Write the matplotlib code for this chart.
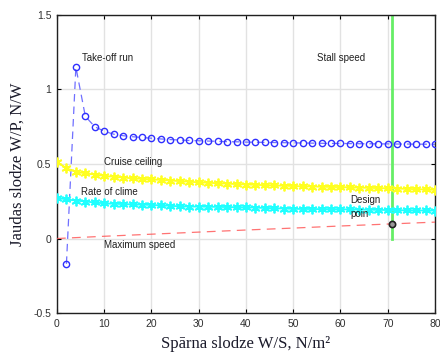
import numpy as np
import matplotlib
matplotlib.use('Agg')
import matplotlib.pyplot as plt

# Take-off run (blue circles)
x_takeoff = list(range(2, 81, 2))
y_takeoff = [-0.17, 1.15, 0.82, 0.75, 0.72, 0.70, 0.69, 0.683, 0.678, 0.673,
             0.668, 0.664, 0.661, 0.658, 0.656, 0.654, 0.652, 0.650, 0.649, 0.647,
             0.646, 0.645, 0.644, 0.643, 0.642, 0.641, 0.640, 0.639, 0.638, 0.638,
             0.637, 0.636, 0.636, 0.635, 0.635, 0.634, 0.634, 0.633, 0.633, 0.632]

# Cruise ceiling (yellow)
x_cruise = list(range(0, 81, 2))
y_cruise = [0.515, 0.471, 0.448, 0.437, 0.429, 0.420, 0.414, 0.409, 0.404, 0.400,
            0.397, 0.393, 0.389, 0.385, 0.381, 0.377, 0.374, 0.371, 0.368, 0.365,
            0.362, 0.360, 0.358, 0.356, 0.354, 0.352, 0.350, 0.349, 0.347, 0.346,
            0.345, 0.343, 0.341, 0.340, 0.338, 0.337, 0.335, 0.333, 0.331, 0.329,
            0.326]

# Rate of climb (cyan)
x_climb = list(range(0, 81, 2))
y_climb = [0.274, 0.262, 0.255, 0.248, 0.242, 0.236, 0.233, 0.231, 0.229, 0.227,
           0.225, 0.222, 0.219, 0.216, 0.214, 0.214, 0.213, 0.212, 0.211, 0.210,
           0.209, 0.207, 0.205, 0.203, 0.201, 0.199, 0.198, 0.198, 0.197, 0.197,
           0.196, 0.195, 0.194, 0.193, 0.192, 0.191, 0.190, 0.189, 0.188, 0.188,
           0.187]

# Maximum speed (red dashed)
x_maxspeed = [0, 10, 20, 30, 40, 50, 60, 70, 80]
y_maxspeed = [0.0, 0.015, 0.029, 0.043, 0.057, 0.070, 0.084, 0.097, 0.110]

# Stall speed and design point
stall_ws = 71
design_ws = 71
design_wp = 0.097

fig = plt.figure(figsize=(4.4, 3.57), dpi=100)
ax = fig.add_axes([0.1295, 0.1232, 0.8591, 0.8348])

ax.plot(x_takeoff, y_takeoff, '--', color='#7070ff', lw=0.9, dashes=(6, 4), zorder=3)
ax.plot(x_takeoff, y_takeoff, 'o', mfc='none', mec='#3030ff', ms=4.5, mew=1.0, zorder=4)

ax.plot(x_cruise, y_cruise, '-', color='#ffff20', lw=1.3, marker=(6, 2, 0),
        ms=7, mew=1.3, mec='#ffff20', zorder=3)
ax.plot(x_climb, y_climb, '-', color='#20ffff', lw=1.3, marker=(6, 2, 0),
        ms=7, mew=1.3, mec='#20ffff', zorder=3)

ax.plot(x_maxspeed, y_maxspeed, '--', color='#ff5050', lw=0.9, dashes=(7, 5), alpha=0.8, zorder=3)

ax.plot([stall_ws, stall_ws], [0, 1.5], '-', color='#66ee66', lw=2, zorder=2)
ax.plot(design_ws, design_wp, 'o', mfc='#999999', mec='#202020', ms=4.5, mew=1.2, zorder=5)

tfont = dict(fontsize=7, family='Liberation Sans', color='#202020')
ax.text(5.3, 1.19, 'Take-off run', **tfont)
ax.text(55, 1.19, 'Stall speed', **tfont)
ax.text(10, 0.49, 'Cruise ceiling', **tfont)
ax.text(5.1, 0.29, 'Rate of clime', **tfont)
ax.text(10, -0.065, 'Maximum speed', **tfont)
ax.text(62, 0.24, 'Design', **tfont)
ax.text(62, 0.145, 'poin', **tfont)

ax.set_xlim(0, 80)
ax.set_ylim(-0.5, 1.5)
ax.set_xticks(range(0, 81, 10))
ax.set_yticks([-0.5, 0, 0.5, 1, 1.5])
ax.set_yticklabels(['-0.5', '0', '0.5', '1', '1.5'])
ax.grid(True, color='#e2e2e2', lw=1.0)
ax.set_axisbelow(True)
ax.tick_params(direction='in', top=True, right=True, length=3, labelsize=7.5,
               labelcolor='#303030', pad=4)
for lab in ax.get_xticklabels() + ax.get_yticklabels():
    lab.set_family('Liberation Sans')
for s in ax.spines.values():
    s.set_color('#202020')
    s.set_linewidth(1.0)

ax.set_xlabel('Spārna slodze W/S, N/m²', family='Liberation Serif', fontsize=12,
              color='#1a1a2a', labelpad=5)
ax.set_ylabel('Jaudas slodze W/P, N/W', family='Liberation Serif', fontsize=12,
              color='#1a1a2a', labelpad=6)

fig.savefig('out.png', dpi=100)
